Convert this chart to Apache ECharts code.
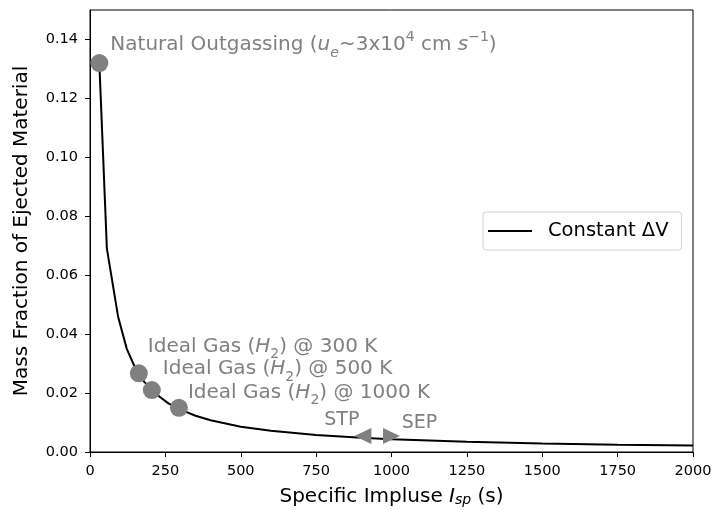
<!DOCTYPE html>
<html>
<head>
<meta charset="utf-8">
<script src="https://cdn.jsdelivr.net/npm/echarts@6/dist/echarts.min.js"></script>
<style>
  html, body { margin: 0; padding: 0; background: #fff; }
  #chart { width: 716px; height: 510px; }
</style>
</head>
<body>
<div id="chart"></div>
<script>
"use strict"
// curve: specific impulse (s) vs mass fraction
const ispValues = [31, 56, 93, 122, 150, 180, 220, 260, 300, 350, 400, 500, 600, 750, 900, 1000, 1250, 1500, 1750, 2000];
const massFraction = [0.132, 0.069, 0.0460, 0.0350, 0.0285, 0.0238, 0.0196, 0.0165, 0.0144, 0.0123, 0.0108, 0.0086, 0.0072, 0.0058, 0.0048, 0.0043, 0.0035, 0.0029, 0.0025, 0.0022];

// annotated points
const circleIsp = [31, 162, 205, 295];
const circleFrac = [0.132, 0.0267, 0.0210, 0.0150];
const arrowIsp = [905, 1000];
const arrowFrac = [0.0054, 0.0054];

const yTicks = [0, 0.02, 0.04, 0.06, 0.08, 0.10, 0.12, 0.14];

const grey = '#808080';
const font = 'DejaVu Sans';

let chart = echarts.init(document.getElementById('chart'));

// sub/superscripts: placed by lineHeight + verticalAlign inside a 30px line
const richLbl = {
    n: { fontSize: 20, color: grey, fontFamily: font, lineHeight: 30, verticalAlign: 'middle' },
    i: { fontSize: 20, color: grey, fontFamily: font, fontStyle: 'italic', lineHeight: 30, verticalAlign: 'middle' },
    sub: { fontSize: 14, color: grey, fontFamily: font, fontStyle: 'italic', lineHeight: 22, verticalAlign: 'bottom' },
    subn: { fontSize: 14, color: grey, fontFamily: font, lineHeight: 22, verticalAlign: 'bottom' },
    sup: { fontSize: 14, color: grey, fontFamily: font, lineHeight: 14, verticalAlign: 'top' }
};

const circleLabels = [
    '{n|Natural Outgassing (}{i|u}{sub|e}{n|~3x10}{sup|4}{n| cm }{i|s}{sup|−1}{n|)}',
    '{n|Ideal Gas (}{i|H}{subn|2}{n|) @ 300 K}',
    '{n|Ideal Gas (}{i|H}{subn|2}{n|) @ 500 K}',
    '{n|Ideal Gas (}{i|H}{subn|2}{n|) @ 1000 K}'
];
const circleOffsets = [[11, -18], [9, -27], [11, -21], [9, -15]];

let circleData = circleIsp.map(function (x, k) {
    return {
        value: [x, circleFrac[k]],
        label: {
            show: true,
            position: 'inside',
            align: 'left',
            verticalAlign: 'middle',
            offset: circleOffsets[k],
            formatter: circleLabels[k],
            rich: richLbl
        }
    };
});

let arrowData = [
    {
        value: [arrowIsp[0], arrowFrac[0]],
        symbolRotate: 90,
        label: { show: true, position: 'inside', align: 'center', offset: [-21, -16], formatter: 'STP', fontSize: 19, color: grey, fontFamily: font }
    },
    {
        value: [arrowIsp[1], arrowFrac[1]],
        symbolRotate: -90,
        label: { show: true, position: 'inside', align: 'center', offset: [28, -13], formatter: 'SEP', fontSize: 19, color: grey, fontFamily: font }
    }
];

let option = {
    animation: false,
    backgroundColor: '#fff',
    textStyle: { fontFamily: font },
    grid: {
        left: 90, right: 23, top: 10, bottom: 58,
        outerBoundsMode: 'none', containLabel: false,
        show: true, borderColor: '#000', borderWidth: 1, backgroundColor: 'transparent'
    },
    legend: {
        data: ['Constant ΔV'],
        left: 483, top: 212,
        orient: 'vertical',
        backgroundColor: '#fff',
        borderColor: '#d0d0d0', borderWidth: 1, borderRadius: 3,
        padding: [9, 13, 9, 5],
        itemWidth: 44, itemHeight: 16,
        icon: 'path://M0,7 L44,7 L44,9 L0,9 Z',
        textStyle: { fontSize: 19.5, color: '#000', fontFamily: font, padding: [0, 0, 0, 11] }
    },
    xAxis: {
        type: 'value',
        min: 0, max: 2000, interval: 250,
        name: '{n|Specific Impluse }{i|I}{s|sp}{n| (s)}',
        nameLocation: 'middle', nameGap: 32,
        nameTextStyle: {
            rich: {
                n: { fontSize: 20, color: '#000', fontFamily: font },
                i: { fontSize: 20, color: '#000', fontFamily: font, fontStyle: 'italic' },
                s: { fontSize: 14, color: '#000', fontFamily: font, fontStyle: 'italic', verticalAlign: 'bottom', lineHeight: 16, padding: [9, 0, 0, 0] }
            }
        },
        axisLine: { onZero: false, lineStyle: { color: '#000', width: 1 } },
        axisTick: { length: 5, lineStyle: { color: '#000' } },
        axisLabel: {
            fontSize: 14.5, color: '#000', fontFamily: font, margin: 12,
            formatter: function (v) { return String(v); }
        },
        splitLine: { show: false }
    },
    yAxis: {
        type: 'value',
        min: 0, max: 0.15,
        name: 'Mass Fraction of Ejected Material',
        nameLocation: 'middle', nameGap: 58,
        nameTextStyle: { fontSize: 20, color: '#000', fontFamily: font },
        axisLine: { onZero: false, lineStyle: { color: '#000', width: 1 } },
        axisTick: { length: 5, lineStyle: { color: '#000' }, customValues: yTicks },
        axisLabel: {
            fontSize: 14.5, color: '#000', fontFamily: font, margin: 12,
            customValues: yTicks,
            formatter: function (v) { return v.toFixed(2); }
        },
        splitLine: { show: false }
    },
    series: [
        {
            name: 'Constant ΔV',
            type: 'line',
            data: ispValues.map(function (x, k) { return [x, massFraction[k]]; }),
            showSymbol: false,
            smooth: false,
            lineStyle: { color: '#000', width: 2 },
            itemStyle: { color: '#000' },
            z: 2
        },
        {
            name: 'points',
            type: 'scatter',
            data: circleData,
            symbol: 'circle',
            symbolSize: 18,
            itemStyle: { color: grey, opacity: 1 },
            z: 3
        },
        {
            name: 'arrows',
            type: 'scatter',
            data: arrowData,
            symbol: 'triangle',
            symbolSize: [16, 17],
            itemStyle: { color: grey, opacity: 1 },
            z: 3
        }
    ]
};
chart.setOption(option);
</script>
</body>
</html>
